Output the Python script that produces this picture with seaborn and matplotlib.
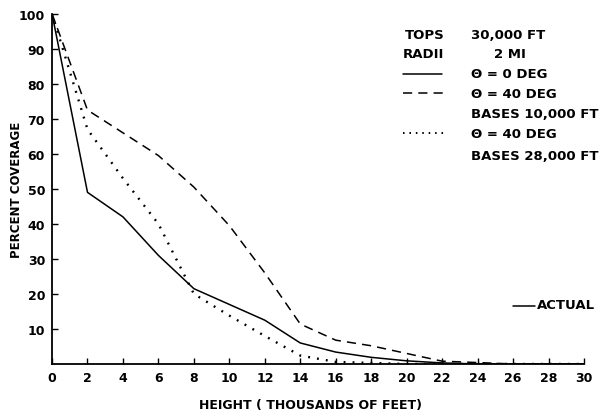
import matplotlib
matplotlib.use("Agg")
import matplotlib.pyplot as plt
import seaborn as sns
import pandas as pd

height = [0, 2, 4, 6, 8, 10, 12, 14, 16, 18, 20, 22, 24, 26, 28, 30]
theta0 = [100, 49, 42, 31, 21.5, 17, 12.5, 6, 3.4, 1.9, 0.9, 0.3, 0, 0, 0, 0]
theta40_b10 = [100, 72.5, 66, 59.5, 50.5, 39.5, 26, 11.4, 6.8, 5.2, 3, 0.8, 0.4, 0, 0, 0]
theta40_b28 = [100, 67, 53, 40, 20, 13.8, 8, 2.4, 0.6, 0.3, 0, 0, 0, 0, 0, 0]

xticks = list(range(0, 31, 2))
yticks = list(range(10, 101, 10))

sns.set_style("ticks")
plt.rcParams['font.family'] = ['DejaVu Sans']
plt.rcParams['font.weight'] = 'bold'
for k in ['text.color', 'axes.labelcolor', 'xtick.color', 'ytick.color', 'axes.edgecolor']:
    plt.rcParams[k] = 'black'

fig = plt.figure(figsize=(6.15, 4.14), dpi=100)
ax = fig.add_axes([0.0846, 0.1184, 0.865, 0.846])

df = pd.DataFrame({"h": height, "a": theta0, "b": theta40_b10, "c": theta40_b28})
sns.lineplot(data=df, x="h", y="a", ax=ax, color="black", lw=1.1, linestyle="-")
sns.lineplot(data=df, x="h", y="b", ax=ax, color="black", lw=1.1, linestyle=(0, (6, 4)))
sns.lineplot(data=df, x="h", y="c", ax=ax, color="black", lw=1.7, linestyle=(0, (0.8, 3.0)))

ax.set_xlim(0, 30)
ax.set_ylim(0, 100)
ax.set_xticks(xticks)
ax.set_yticks(yticks)
ax.set_xticklabels([str(v) for v in xticks], fontsize=9, fontweight='bold')
ax.set_yticklabels([str(v) for v in yticks], fontsize=9, fontweight='bold')
ax.tick_params(axis='both', direction='in', length=4, width=1, color='black', pad=5)
sns.despine(ax=ax)
for s in ['left', 'bottom']:
    ax.spines[s].set_linewidth(1.3)
    ax.spines[s].set_color('black')

ax.set_xlabel("HEIGHT ( THOUSANDS OF FEET)", fontsize=9, fontweight='bold')
ax.set_ylabel("PERCENT COVERAGE", fontsize=8.5, fontweight='bold')
ax.xaxis.set_label_coords(0.485, -0.117)
ax.xaxis.label.set_va('center')
ax.yaxis.set_label_coords(-0.066, 0.5)
ax.yaxis.label.set_va('center')

# legend block (figure coordinates in pixels)
W, H = 615, 414
def ftext(x, y, s, **kw):
    fig.text(x / W, 1 - y / H, s, fontsize=9.5, fontweight='bold', va='center', ha='left', **kw)

ftext(405, 36, "TOPS")
ftext(471, 36, "30,000 FT")
ftext(403, 55, "RADII")
ftext(494, 55, "2 MI")
ftext(471, 75, "Θ = 0 DEG")
ftext(471, 94, "Θ = 40 DEG")
ftext(471, 114, "BASES 10,000 FT")
ftext(471, 134, "Θ = 40 DEG")
ftext(471, 156, "BASES 28,000 FT")

def fline(x0, x1, y, ls, lw=1.1):
    fig.add_artist(plt.Line2D([x0 / W, x1 / W], [1 - y / H, 1 - y / H], color='black',
                              lw=lw, linestyle=ls, transform=fig.transFigure))

fline(403, 442, 75, '-')
fline(403, 444, 94, (0, (6, 4)))
fline(403, 445, 134, (0, (0.8, 2.5)), lw=1.4)

fline(513, 535, 307, '-')
ftext(537, 306, "ACTUAL")

fig.savefig("out.png", dpi=100)
